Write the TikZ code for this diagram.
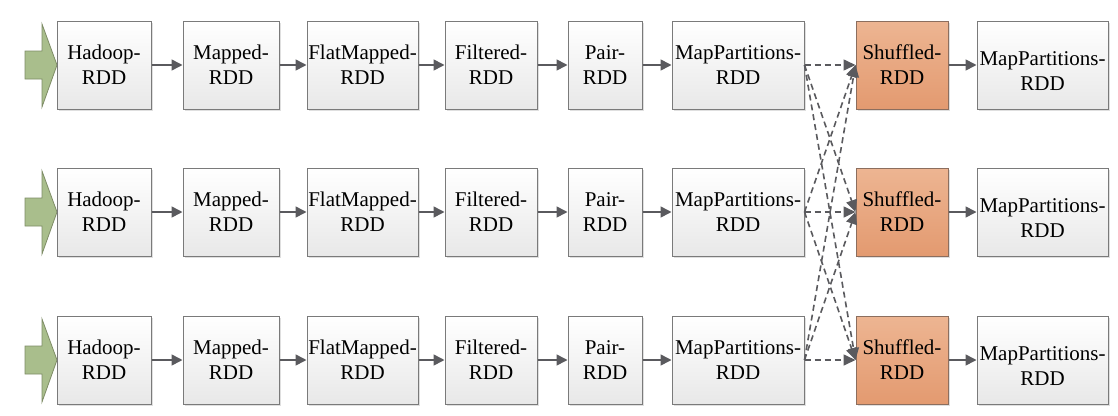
\documentclass[tikz,border=0pt]{standalone}
\usepackage{fontspec}
\setmainfont{Liberation Serif}
\usetikzlibrary{arrows.meta,shadows}

\definecolor{boxline}{HTML}{7A7A7A}
\definecolor{flowgray}{HTML}{5A5A5E}
\definecolor{shufftop}{HTML}{EDB592}
\definecolor{shuffbot}{HTML}{E39A70}
\definecolor{shuffline}{HTML}{8C6E5E}
\definecolor{feedgreen}{HTML}{A9BE8C}
\definecolor{feedline}{HTML}{7E8C66}

\tikzset{
  rdd/.style={draw=boxline, line width=1pt, top color=white, bottom color=gray!18,
    minimum height=88pt, inner sep=0pt, align=center,
    font=\fontsize{21}{25}\selectfont,
    drop shadow={shadow xshift=2pt, shadow yshift=-2pt, fill=gray!25, opacity=1}},
  shuffrdd/.style={rdd, draw=shuffline, top color=shufftop, bottom color=shuffbot},
  flow/.style={draw=flowgray, line width=1.6pt, -{Triangle[length=11pt,width=11pt]}},
  wide/.style={draw=flowgray, line width=1.6pt, dashed, dash pattern=on 6pt off 4pt,
    -{Triangle[length=12pt,width=11pt]}}
}

\begin{document}
\begin{tikzpicture}[x=1pt,y=-1pt]
  \useasboundingbox (0,0) rectangle (1118,415);
  \foreach \r/\y in {1/65,2/212,3/360} {
    % feed arrow
    \draw[fill=feedgreen, draw=feedline, line width=0.8pt]
      (25,\y-14) -- (42,\y-14) -- (42,\y-41) -- (57,\y) -- (42,\y+42)
      -- (42,\y+14) -- (25,\y+14) -- cycle;
    % narrow stages
    \node[rdd, minimum width=94pt]  (hadoop\r) at (104,\y)   {Hadoop-\\RDD};
    \node[rdd, minimum width=96pt]  (mapped\r) at (231,\y)   {Mapped-\\RDD};
    \node[rdd, minimum width=111pt] (flat\r)   at (362.5,\y) {FlatMapped-\\RDD};
    \node[rdd, minimum width=92pt]  (filter\r) at (491,\y)   {Filtered-\\RDD};
    \node[rdd, minimum width=74pt]  (pair\r)   at (605,\y)   {Pair-\\RDD};
    \node[rdd, minimum width=132pt] (mappart\r) at (738,\y)  {MapPartitions-\\RDD};
    \node[shuffrdd, minimum width=92pt] (shuff\r) at (902,\y) {Shuffled-\\RDD};
    \node[rdd, minimum width=131pt] (result\r) at (1042.5,\y)
      {\rule{0pt}{26pt}MapPartitions-\\RDD};
    \draw[flow] (hadoop\r) -- (mapped\r);
    \draw[flow] (mapped\r) -- (flat\r);
    \draw[flow] (flat\r) -- (filter\r);
    \draw[flow] (filter\r) -- (pair\r);
    \draw[flow] (pair\r) -- (mappart\r);
    \draw[flow] (shuff\r) -- (result\r);
  }
  % shuffle dependencies
  \foreach \a in {1,2,3}
    \foreach \b in {1,2,3}
      \draw[wide] (mappart\a.east) -- (shuff\b.west);
\end{tikzpicture}
\end{document}
